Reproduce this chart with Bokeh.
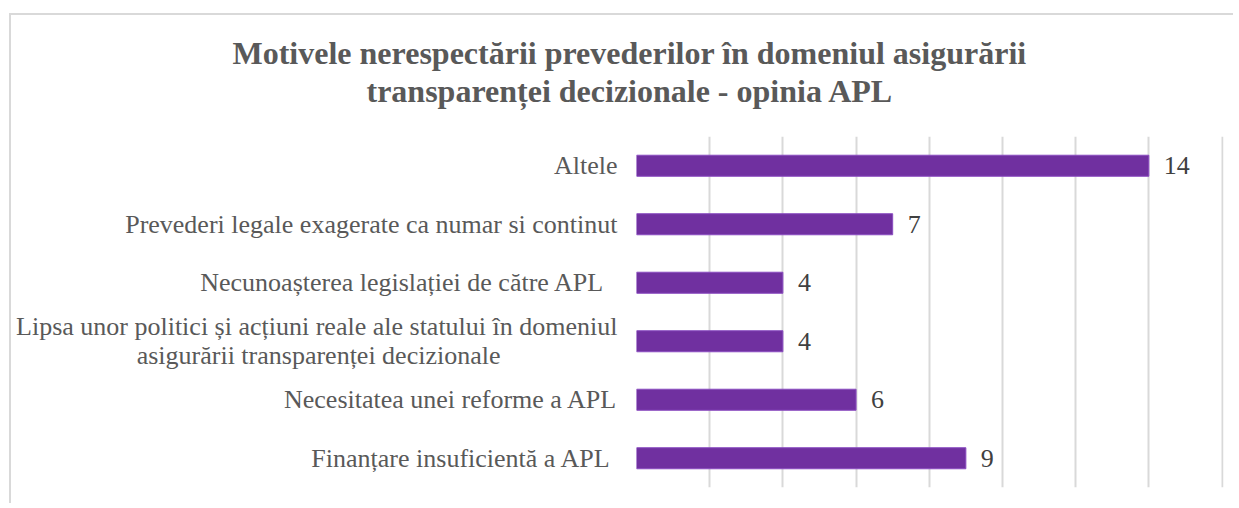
from bokeh.plotting import figure
from bokeh.models import FactorRange, Range1d, ColumnDataSource, SingleIntervalTicker, Title
from bokeh.core.properties import value
from bokeh.embed import file_html
from bokeh.resources import INLINE

NB = "\u00a0"
categories = [
    "Altele",
    "Prevederi legale exagerate ca numar si continut",
    "Necunoașterea legislației  de către APL ",
    "Lipsa unor politici și acțiuni reale ale statului în domeniul\nasigurării transparenței decizionale" + NB * 18,
    "Necesitatea unei reforme a APL",
    "Finanțare insuficientă a APL ",
]
values = [14, 7, 4, 4, 6, 9]
value_labels = [str(v) for v in values]
title_lines = ["Motivele nerespectării prevederilor în domeniul asigurării",
               "transparenței decizionale - opinia APL"]

src = ColumnDataSource(dict(cat=categories, val=values, lab=value_labels))

p = figure(
    width=1224, height=490,
    y_range=FactorRange(factors=categories[::-1], range_padding=0),
    x_range=Range1d(0, 16.04),
    output_backend="svg", toolbar_location=None, title=None,
    min_border_left=625, min_border_right=12, min_border_top=121, min_border_bottom=18,
    styles={"border-left": "2px solid #d9d9d9", "border-top": "2px solid #d9d9d9",
            "margin-left": "9px", "margin-top": "13px"},
)
p.outline_line_color = None
p.hbar(y="cat", right="val", left=0, height=0.36, source=src,
       fill_color="#7030A0", line_color="#8a4cc0", line_width=1)
p.text(x="val", y="cat", text="lab", source=src, x_offset=15,
       text_baseline="middle", text_align="left",
       text_font=value("Liberation Serif"), text_font_size="26px", text_color="#404040")

p.xaxis.visible = False
p.xgrid.ticker = SingleIntervalTicker(interval=2)
p.xgrid.grid_line_color = "#d9d9d9"
p.xgrid.grid_line_width = 2
p.ygrid.grid_line_color = None

ya = p.yaxis[0]
ya.axis_line_color = None
ya.major_tick_line_color = None
ya.minor_tick_line_color = None
ya.major_tick_out = 0
ya.major_tick_in = 0
ya.major_label_standoff = 19
ya.major_label_text_font = "Liberation Serif"
ya.major_label_text_font_size = "26px"
ya.major_label_text_color = "#595959"
ya.major_label_text_line_height = 1.0

title_offsets = [-404, -270]
title_standoffs = [-54, 55]
# inner line first (closest to the frame), then outer line
for txt, off, so in list(zip(title_lines, title_offsets, title_standoffs))[::-1]:
    p.add_layout(Title(text=txt, align="left", offset=off, standoff=so,
                       text_font="Liberation Serif", text_font_size="32px",
                       text_font_style="bold", text_color="#595959"), "above")

open("out.html", "w").write(file_html(p, INLINE))
